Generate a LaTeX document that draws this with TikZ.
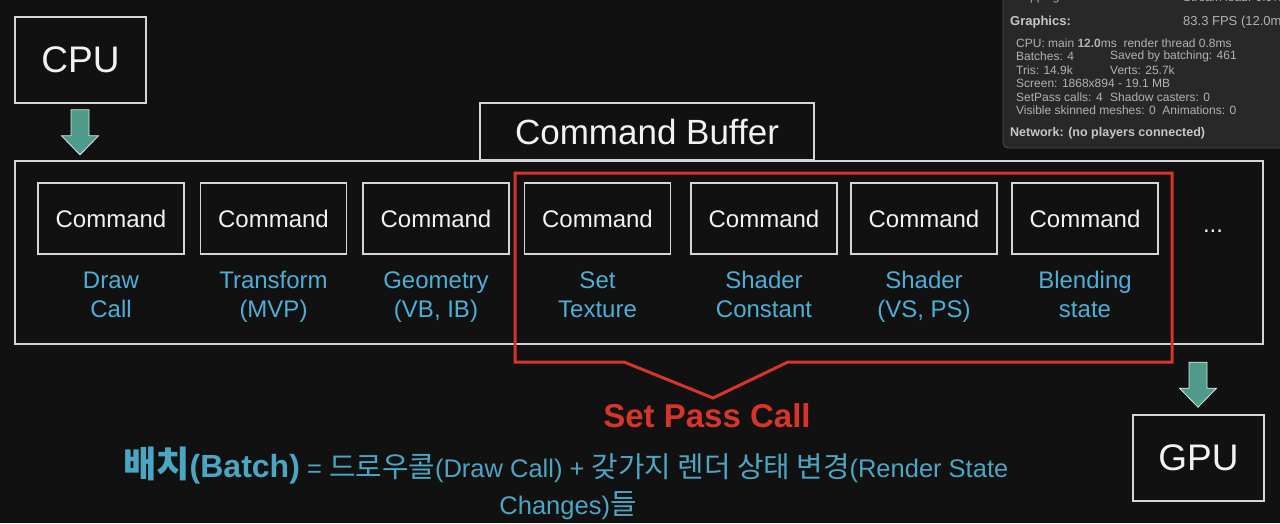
\documentclass[tikz,border=0pt]{standalone}
\usepackage{fontspec}
\usetikzlibrary{calc}
\setmainfont{Liberation Sans}
\newfontfamily\kr{Noto Sans CJK KR}[Scale=1.13]
\definecolor{bgc}{HTML}{111111}
\definecolor{boxline}{HTML}{D6D6D6}
\definecolor{cmdtext}{HTML}{F2F2F2}
\definecolor{lbl}{HTML}{4DAFD6}
\definecolor{btext}{HTML}{4AA6C2}
\definecolor{arrowteal}{HTML}{4F9A8B}
\definecolor{redc}{HTML}{D8352A}
\definecolor{panel}{HTML}{282828}
\definecolor{panelline}{HTML}{4A4A4A}
\definecolor{stat}{HTML}{B2B2B2}
\definecolor{stathead}{HTML}{C6C6C6}
\tikzset{
  framebox/.style={draw=boxline, line width=1.6pt, fill=bgc, inner sep=0pt},
  cmdbox/.style={framebox, minimum width=146pt, minimum height=71pt, text=cmdtext,
                 font=\fontsize{24}{29}\selectfont},
  bigbox/.style={framebox, minimum width=131pt, minimum height=86pt, text=cmdtext,
                 font=\fontsize{37}{44}\selectfont},
  cmdlabel/.style={text=lbl, align=center, inner sep=0pt, font=\fontsize{24}{29}\selectfont},
  stattext/.style={text=stat, anchor=west, inner sep=0pt, font=\fontsize{12}{14}\selectfont},
  statheadtext/.style={text=stathead, anchor=west, inner sep=0pt, font=\fontsize{13}{15}\selectfont\bfseries},
  pics/blockarrow/.style={code={
    \filldraw[fill=arrowteal, draw=white!80!arrowteal, line width=0.8pt]
      (-9,0) -- (9,0) -- (9,26) -- (18.5,26) -- (0,45) -- (-18.5,26) -- (-9,26) -- cycle;
  }}
}
\begin{document}
\begin{tikzpicture}[x=1pt,y=-1pt]
\useasboundingbox (0,0) rectangle (1280,523);
\fill[bgc] (0,0) rectangle (1280,523);

% stats panel
\filldraw[fill=panel, draw=panelline, line width=0.8pt, rounded corners=5pt] (1003,-12) rectangle (1292,148);
\node[stattext] (st0) at (1016,-3) {Clipping: 0.0\%};
\node[stattext] (st0b) at (1183,-3) {Stream load: 0.0\%};
\node[statheadtext] (st1) at (1010,22) {Graphics:};
\node[stattext, font=\fontsize{13}{15}\selectfont] (st1b) at (1183,22) {83.3 FPS (12.0ms)};
\node[stattext] (st2) at (1016,43) {CPU: main \textbf{12.0}ms\ \ render thread 0.8ms};
\node[stattext] (st3) at (1016,56) {Batches: 4};
\node[stattext] (st3b) at (1110,56) {Saved by batching: 461};
\node[stattext] (st4) at (1016,70) {Tris: 14.9k};
\node[stattext] (st4b) at (1110,70) {Verts: 25.7k};
\node[stattext] (st5) at (1016,83) {Screen: 1868x894 - 19.1 MB};
\node[stattext] (st6) at (1016,97) {SetPass calls: 4};
\node[stattext] (st6b) at (1110,97) {Shadow casters: 0};
\node[stattext] (st7) at (1016,110) {Visible skinned meshes: 0\ \ Animations: 0};
\node[statheadtext, font=\fontsize{12.5}{15}\selectfont\bfseries] (st8) at (1010,133) {Network: (no players connected)};

% CPU / GPU
\node[bigbox] (cpu) at (80.5,60) {CPU};
\node[bigbox] (gpu) at (1198.5,458) {GPU};

% command buffer
\node[framebox, minimum width=1248pt, minimum height=183pt] (buf) at (639,252.5) {};
\node[framebox, minimum width=334pt, minimum height=57pt, text=cmdtext,
      font=\fontsize{35}{42}\selectfont] (title) at (647,131.5) {Command Buffer};

\node[cmdbox] (c1) at (111,218.5) {Command};
\node[cmdbox] (c2) at (273.5,218.5) {Command};
\node[cmdbox] (c3) at (436,218.5) {Command};
\node[cmdbox] (c4) at (597.5,218.5) {Command};
\node[cmdbox] (c5) at (764,218.5) {Command};
\node[cmdbox] (c6) at (924,218.5) {Command};
\node[cmdbox] (c7) at (1085,218.5) {Command};
\node[text=cmdtext, inner sep=0pt, font=\fontsize{24}{29}\selectfont] (dots) at (1213,231) {...};

\node[cmdlabel] (l1) at (111,297.5) {\strut Draw\\\strut Call};
\node[cmdlabel] (l2) at (273.5,297.5) {\strut Transform\\\strut (MVP)};
\node[cmdlabel] (l3) at (436,297.5) {\strut Geometry\\\strut (VB, IB)};
\node[cmdlabel] (l4) at (597.5,297.5) {\strut Set\\\strut Texture};
\node[cmdlabel] (l5) at (764,297.5) {\strut Shader\\\strut Constant};
\node[cmdlabel] (l6) at (924,297.5) {\strut Shader\\\strut (VS, PS)};
\node[cmdlabel] (l7) at (1085,297.5) {\strut Blending\\\strut state};

% arrows
\pic at ($(cpu.south)+(-0.5,6)$) {blockarrow};
\pic at ($(gpu.north)+(-0.5,-52)$) {blockarrow};

% red bracket
\draw[redc, line width=3pt, line join=miter]
  (624,362) -- (515,362) -- (515,173) -- (1172,173) -- (1172,362) -- (788,362) -- (713,398) -- cycle;
\node[text=redc, inner sep=0pt, font=\fontsize{33}{40}\selectfont\bfseries] (spc) at (707,416) {Set Pass Call};

% bottom text
\node[text=btext, anchor=base west, inner sep=0pt, font=\fontsize{25.5}{30}\selectfont] (b1) at (123,477)
  {{\fontsize{32}{38}\selectfont\bfseries{\kr 배치}(Batch)} = {\kr 드로우콜}(Draw Call) + {\kr 갖가지 렌더 상태 변경}(Render State};
\node[text=btext, anchor=base, inner sep=0pt, font=\fontsize{25.5}{30}\selectfont] (b2) at (568,514) {Changes){\kr 들}};
\end{tikzpicture}
\end{document}
